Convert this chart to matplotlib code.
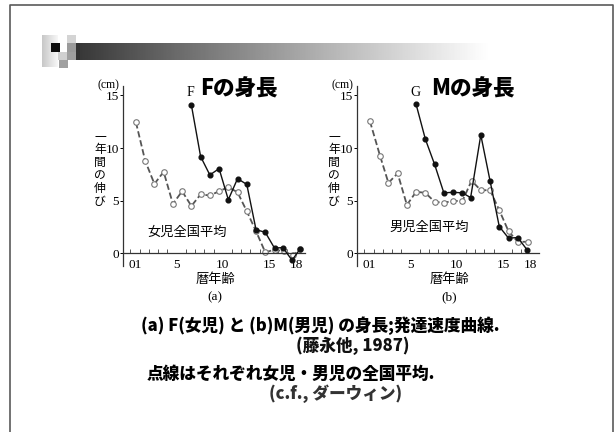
"""
Growth velocity slide: F (girl) and M (boy) height gain per year
vs. national averages, two small panels with captions.
"""

import matplotlib
matplotlib.use("Agg")
import matplotlib.pyplot as plt
import matplotlib.patches as patches
import numpy as np

plt.rcParams["font.family"] = ["Noto Sans CJK JP", "DejaVu Sans"]

W, H = 614, 432
SERIF = ["Liberation Serif", "DejaVu Serif"]
BORDER = "#5a5a5a"
AVG_COLOR = "#555555"

# --- data (cm gained per year) ---
girl_avg_age = [0.6, 1.6, 2.6, 3.6, 4.6, 5.6, 6.6, 7.6, 8.6, 9.6, 10.6,
                11.6, 12.6, 13.6, 14.6, 15.6, 16.6, 17.6, 18.4]
girl_avg = [12.45, 8.8, 6.6, 7.75, 4.7, 5.9, 4.5, 5.6, 5.5, 5.9, 6.3,
            5.8, 4.0, 2.1, 0.1, 0.35, 0.2, -0.2, 0.4]
girl_f_age = [6.6, 7.6, 8.6, 9.6, 10.6, 11.6, 12.6, 13.6, 14.6, 15.6,
              16.5, 17.5, 18.4]
girl_f = [14.1, 9.2, 7.45, 8.05, 5.1, 7.1, 6.55, 2.25, 2.0, 0.5,
          0.55, -0.65, 0.45]

boy_avg_age = [0.6, 1.7, 2.6, 3.6, 4.6, 5.6, 6.6, 7.6, 8.6, 9.6, 10.6,
               11.6, 12.6, 13.6, 14.6, 15.6, 16.6, 17.7]
boy_avg = [12.55, 9.25, 6.7, 7.6, 4.6, 5.85, 5.75, 4.9, 4.8, 5.0, 4.95,
           6.9, 6.0, 6.0, 4.1, 2.1, 1.1, 1.1]
boy_g_age = [5.6, 6.6, 7.6, 8.6, 9.6, 10.6, 11.5, 12.6, 13.6, 14.6,
             15.6, 16.6, 17.6]
boy_g = [14.15, 10.85, 8.45, 5.75, 5.8, 5.75, 5.3, 11.25, 6.9, 2.55,
         1.45, 1.5, 0.35]

x_ticks = [0.5, 5, 10, 15, 18]
x_tick_labels = ["01", "5", "10", "15", "18"]
y_ticks = [0, 5, 10, 15]


def px_axes(left, top, right, bottom):
    """Axes rectangle given in pixel coords of the slide."""
    return [left / W, 1 - bottom / H, (right - left) / W, (bottom - top) / H]


def draw_panel(fig, left, ages_avg, avg, ages_ind, ind, ind_name,
               title, avg_name, avg_label_x, avg_label_y, sub):
    ax = fig.add_axes(px_axes(left, 86, left + 182, 266))
    ax.set_xlim(-0.8, 18.9)
    ax.set_ylim(-1.2, 15.9)
    ax.patch.set_alpha(0)
    for side in ("top", "right"):
        ax.spines[side].set_visible(False)
    ax.spines["bottom"].set_position(("data", 0))
    ax.spines["left"].set_bounds(-1.2, 15.9)
    for sp in ax.spines.values():
        sp.set_linewidth(0.9)
        sp.set_color("#333333")

    ax.plot(ages_avg, avg, ls=(0, (3.5, 1.6)), lw=1.3, color=AVG_COLOR,
            marker="o", ms=4, mfc="white", mec="#777777", mew=0.8, zorder=2)
    ax.plot(ages_ind, ind, ls="-", lw=1.0, color="#111111",
            marker="o", ms=3.4, mfc="#111111", mec="#111111", zorder=3)

    ax.set_xticks(x_ticks, x_tick_labels, family=SERIF, fontsize=9.5)
    ax.set_xticks(np.arange(0, 19), minor=True)
    ax.tick_params(axis="x", which="major", length=0, pad=4)
    ax.tick_params(axis="x", which="minor", direction="in", length=3,
                   width=0.7, color="#555555")
    ax.set_yticks(y_ticks, [str(v) for v in y_ticks], family=SERIF,
                  fontsize=9.5)
    ax.tick_params(axis="y", direction="out", length=2, width=0.7, pad=1)

    # annotations in pixel space of the slide
    top = 86
    fig.text((left - 15) / W, 1 - (top - 1) / H, "(cm)", family=SERIF,
             fontsize=8.5, ha="center", va="center")
    fig.text((left - 23) / W, 1 - 169 / H, "\n".join("一年間の伸び"),
             fontsize=8.5, ha="center", va="center", linespacing=0.98)
    ax.text(ages_ind[0] - 0.1, 15.25, ind_name, family=SERIF, fontsize=10,
            ha="center", va="center")
    fig.text((left + 116) / W, 1 - 89 / H, title, fontsize=15.5,
             fontweight="heavy", ha="center", va="center")
    fig.text(avg_label_x / W, 1 - avg_label_y / H, avg_name, fontsize=9.5,
             ha="center", va="center")
    fig.text((left + 92) / W, 1 - 280 / H, "暦年齢", fontsize=9.5,
             ha="center", va="center")
    fig.text((left + 92) / W, 1 - 297 / H, sub, family=SERIF, fontsize=9.5,
             ha="center", va="center")
    return ax


fig = plt.figure(figsize=(W / 100, H / 100), dpi=100)
fig.patch.set_facecolor("white")

# slide background layer in pixel coords
bg = fig.add_axes([0, 0, 1, 1])
bg.set_xlim(0, W)
bg.set_ylim(H, 0)
bg.axis("off")

# slide border
bg.plot([10, 10, 612.5, 612.5], [H, 5, 5, H], color=BORDER, lw=1.2)

# header gradient bar
grad = np.linspace(0.18, 1.0, 256) ** 0.9
bg.imshow(grad[np.newaxis, :], cmap="gray", vmin=0, vmax=1, aspect="auto",
          extent=(76, 490, 60, 43), interpolation="bilinear")
sq = np.linspace(0.78, 0.97, 64)
bg.imshow(sq[np.newaxis, :], cmap="gray", vmin=0, vmax=1, aspect="auto",
          extent=(42, 58, 67, 35), interpolation="bilinear")
for (x0, y0, w, h, c) in [
    (51, 43, 9, 9, "#0d0d0d"),
    (67, 35, 9, 8, "#d4d4d4"),
    (67, 43, 9, 9, "#9a9a9a"),
    (76, 43, 4, 17, "#333333"),
    (58, 52, 9, 8, "#d0d0d0"),
    (67, 52, 9, 8, "#9f9f9f"),
    (59, 60, 9, 8, "#a0a0a0"),
]:
    bg.add_patch(patches.Rectangle((x0, y0), w, h, color=c, lw=0))
bg.set_xlim(0, W)
bg.set_ylim(H, 0)

draw_panel(fig, 123, girl_avg_age, girl_avg, girl_f_age, girl_f, "F",
           "Fの身長", "女児全国平均", 187, 232, "(a)")
draw_panel(fig, 357, boy_avg_age, boy_avg, boy_g_age, boy_g, "G",
           "Mの身長", "男児全国平均", 429, 227, "(b)")

# captions
captions = [
    (320, 326, "(a) F(女児) と (b)M(男児) の身長;発達速度曲線.", "#000000"),
    (353, 346, "(藤永他, 1987)", "#111111"),
    (291, 374, "点線はそれぞれ女児・男児の全国平均.", "#000000"),
    (336, 394, "(c.f., ダーウィン)", "#333333"),
]
for cx, cy, txt, col in captions:
    fig.text(cx / W, 1 - cy / H, txt, fontsize=12, fontweight="heavy",
             color=col, ha="center", va="center")

fig.savefig("out.png", dpi=100, facecolor="white")
plt.close(fig)
